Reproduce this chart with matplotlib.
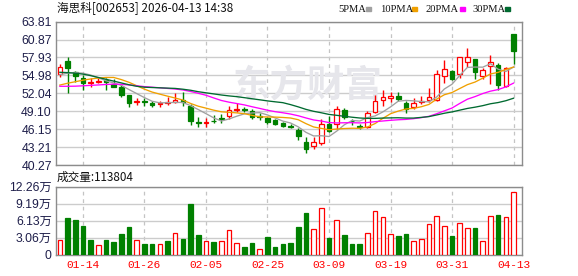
import matplotlib
matplotlib.use("Agg")
import matplotlib.pyplot as plt

dates = ["01-09", "01-12", "01-13", "01-14", "01-15", "01-16", "01-19", "01-20", "01-21", "01-22",
         "01-23", "01-26", "01-27", "01-28", "01-29", "01-30", "02-02", "02-03", "02-04", "02-05",
         "02-06", "02-09", "02-10", "02-11", "02-12", "02-13", "02-24", "02-25", "02-26", "02-27",
         "03-02", "03-03", "03-04", "03-05", "03-06", "03-09", "03-10", "03-11", "03-12", "03-13",
         "03-16", "03-17", "03-18", "03-19", "03-20", "03-23", "03-24", "03-25", "03-26", "03-27",
         "03-30", "03-31", "04-01", "04-02", "04-03", "04-07", "04-08", "04-09", "04-10", "04-13"]

opens = [55.17, 57.40, 55.60, 54.61, 53.79, 53.86, 54.18, 53.53, 53.03, 51.77,
         50.57, 50.73, 50.41, 50.34, 50.46, 50.57, 50.87, 50.00, 47.33, 47.22,
         47.58, 47.99, 48.37, 49.35, 49.47, 49.19, 48.27, 47.91, 47.66, 47.22,
         46.68, 46.02, 44.10, 43.44, 43.93, 47.00, 46.97, 49.31, 47.58, 46.63,
         46.56, 48.93, 50.90, 51.23, 51.61, 50.50, 49.75, 50.62, 50.95, 50.95,
         54.84, 55.68, 55.17, 57.24, 57.63, 54.97, 56.48, 56.70, 53.30, 61.78]
highs = [56.86, 58.06, 55.79, 55.05, 54.51, 54.51, 54.61, 54.35, 53.58, 51.85,
         51.28, 51.28, 50.78, 50.78, 51.49, 52.15, 52.31, 50.21, 48.11, 47.94,
         48.48, 48.61, 49.96, 50.41, 49.75, 49.42, 48.76, 48.11, 47.83, 47.38,
         46.97, 46.43, 44.92, 44.82, 47.78, 48.32, 49.96, 49.58, 47.78, 47.00,
         49.19, 51.77, 52.59, 52.26, 52.34, 50.73, 51.23, 51.61, 52.87, 55.88,
         57.52, 55.83, 57.96, 59.44, 57.63, 56.16, 58.34, 57.07, 56.39, 61.78]
lows = [54.67, 52.15, 53.95, 52.59, 53.13, 53.69, 52.59, 53.03, 51.39, 49.75,
        50.13, 49.96, 49.85, 49.75, 50.13, 50.41, 49.96, 46.76, 46.46, 46.46,
        47.12, 47.22, 47.78, 48.98, 49.03, 47.78, 47.66, 47.05, 46.76, 46.51,
        46.27, 44.38, 42.29, 42.93, 43.56, 45.74, 46.18, 47.78, 46.92, 46.14,
        46.30, 48.76, 50.00, 50.67, 50.78, 48.76, 49.42, 50.21, 50.67, 50.83,
        53.69, 54.23, 54.64, 56.32, 54.40, 54.43, 53.63, 52.59, 53.13, 56.81]
closes = [56.32, 56.25, 54.94, 53.79, 53.95, 54.02, 53.86, 53.13, 51.77, 50.50,
          50.73, 50.57, 50.13, 50.46, 50.67, 50.90, 50.54, 47.55, 47.22, 47.33,
          47.45, 47.88, 49.27, 49.47, 49.35, 48.11, 48.16, 47.38, 47.00, 46.73,
          46.56, 45.03, 42.87, 44.00, 46.96, 45.89, 49.42, 48.11, 47.50, 46.51,
          48.76, 50.78, 51.39, 51.61, 51.19, 49.44, 50.41, 50.78, 51.36, 55.19,
          55.99, 54.40, 57.96, 57.96, 55.50, 55.88, 57.24, 53.41, 56.16, 59.05]

# volume in lots
volumes = [26400, 66100, 62500, 51700, 26400, 16800, 26400, 22800, 37300, 49900,
           25800, 19200, 19200, 18600, 24600, 38500, 28200, 91400, 35500, 24000,
           22800, 24000, 43900, 20400, 13800, 21000, 9600, 31900, 13800, 19200,
           21000, 49900, 75100, 45700, 83500, 30100, 62500, 35500, 19200, 19200,
           38500, 78100, 67300, 36700, 33700, 37300, 24000, 27600, 54700, 69100,
           51100, 33700, 56500, 48100, 48100, 24000, 69100, 71500, 67300, 113804]
volume_up = [1, 0, 0, 0, 0, 1, 0, 0, 0, 0,
             1, 0, 0, 1, 0, 1, 0, 0, 0, 1,
             0, 1, 1, 1, 0, 0, 1, 0, 0, 0,
             0, 0, 0, 1, 1, 0, 1, 0, 0, 0,
             1, 1, 1, 1, 0, 0, 1, 1, 1, 1,
             1, 0, 1, 1, 0, 1, 1, 0, 1, 1]

ma5 = [55.10, 55.35, 55.45, 55.35, 55.05, 54.59, 54.11, 53.75, 53.35, 52.66,
       52.00, 51.34, 50.74, 50.48, 50.51, 50.55, 50.54, 50.02, 49.38, 48.71,
       48.02, 47.49, 47.83, 48.28, 48.68, 48.82, 48.87, 48.49, 48.00, 47.48,
       47.17, 46.54, 45.64, 45.04, 45.08, 44.95, 45.83, 46.88, 47.58, 47.49,
       48.06, 48.33, 48.99, 49.81, 50.75, 50.88, 50.81, 50.69, 50.64, 51.44,
       52.75, 53.54, 54.98, 56.30, 56.36, 56.34, 56.91, 56.00, 55.64, 56.35]
ma10 = [53.40, 53.70, 53.95, 54.20, 54.40, 54.55, 54.65, 54.65, 54.30, 53.85,
        53.29, 52.73, 52.25, 51.91, 51.58, 51.27, 50.94, 50.38, 49.93, 49.61,
        49.28, 49.01, 48.93, 48.83, 48.70, 48.42, 48.18, 48.16, 48.14, 48.08,
        47.99, 47.71, 47.07, 46.52, 46.28, 46.06, 46.18, 46.26, 46.31, 46.29,
        46.51, 47.08, 47.93, 48.69, 49.12, 49.47, 49.57, 49.84, 50.22, 51.09,
        51.81, 52.18, 52.83, 53.47, 53.90, 54.54, 55.23, 55.49, 55.97, 56.36]
ma20 = [53.20, 53.20, 53.22, 53.28, 53.35, 53.42, 53.50, 53.55, 53.52, 53.42,
        53.28, 53.15, 53.05, 52.95, 52.85, 52.75, 52.60, 52.35, 52.05, 51.73,
        51.29, 50.87, 50.59, 50.37, 50.14, 49.84, 49.56, 49.27, 49.03, 48.85,
        48.64, 48.36, 48.00, 47.67, 47.49, 47.24, 47.18, 47.21, 47.22, 47.18,
        47.25, 47.39, 47.50, 47.61, 47.70, 47.76, 47.88, 48.05, 48.27, 48.69,
        49.16, 49.63, 50.38, 51.08, 51.51, 52.01, 52.40, 52.66, 53.10, 53.72]
ma30 = [55.50, 55.45, 55.35, 55.20, 54.95, 54.65, 54.35, 54.05, 53.75, 53.45,
        53.20, 53.05, 53.00, 52.95, 52.90, 52.85, 52.72, 52.55, 52.31, 52.13,
        51.95, 51.77, 51.62, 51.50, 51.33, 51.15, 50.98, 50.80, 50.65, 50.51,
        50.19, 49.82, 49.41, 49.09, 48.85, 48.58, 48.43, 48.27, 48.12, 47.99,
        47.93, 47.93, 47.98, 48.01, 48.03, 47.98, 47.98, 48.09, 48.22, 48.49,
        48.77, 48.99, 49.28, 49.56, 49.77, 50.02, 50.33, 50.53, 50.83, 51.24]

price_ticks = [40.27, 43.21, 46.15, 49.10, 52.04, 54.98, 57.93, 60.87, 63.81]
volume_ticks = [0, 30650, 61300, 91950, 122600]
volume_tick_labels = ["0", "3.06万", "6.13万", "9.19万", "12.26万"]
tick_every = 8
first_tick = 3

title = "海思科[002653] 2026-04-13 14:38"
ma_names = ["5PMA", "10PMA", "20PMA", "30PMA"]
ma_colors = ["#a0a0a0", "#f0a000", "#ff00ff", "#006a30"]

RED = "#ff0000"
GREEN = "#008000"
GRID = "#cccccc"
FRAME = "#8c8c8c"
LABEL = "#1e1e4a"
CJK = ["Noto Sans CJK SC", "DejaVu Sans"]
NUM = ["Liberation Sans", "Noto Sans CJK SC"]

W, H = 578, 276
fig = plt.figure(figsize=(W / 100, H / 100), dpi=100)
fig.patch.set_facecolor("white")

left, right = 56, 522
ax = fig.add_axes([left / W, 1 - 165 / H, (right - left) / W, (165 - 21.7) / H])
axv = fig.add_axes([left / W, 1 - 254.7 / H, (right - left) / W, 68 / H])

n = len(closes)
xs = list(range(n))
tick_idx = xs[first_tick::tick_every]

for a in (ax, axv):
    a.set_xlim(-0.5, n + 0.1)
    for s in a.spines.values():
        s.set_color(FRAME)
        s.set_linewidth(1.0)
    a.tick_params(length=0, pad=3)
    a.grid(axis="y", color=GRID, linewidth=1.0, zorder=0)
    a.set_axisbelow(True)
    for t in tick_idx:
        a.axvline(t, color="#c4c4c4", linewidth=0.9, linestyle=(0, (3, 3)), zorder=0.5)

# watermark
ax.text(0.54, 0.55, "东方财富", transform=ax.transAxes, ha="center", va="center",
        fontsize=27, fontweight="bold", color="#e6e6eb", family=CJK, zorder=0.8)

# candles
body_w = 0.6
for i in xs:
    o, h, l, c = opens[i], highs[i], lows[i], closes[i]
    up = c >= o
    col = RED if up else GREEN
    lo_b, hi_b = min(o, c), max(o, c)
    ax.vlines(i, l, lo_b, color=col, linewidth=1.0, zorder=2)
    ax.vlines(i, hi_b, h, color=col, linewidth=1.0, zorder=2)
    height = max(hi_b - lo_b, 0.02)
    ax.bar(i, height, bottom=lo_b, width=body_w, facecolor="white" if up else GREEN,
           edgecolor=col, linewidth=0.9, zorder=3)

for vals, col in zip([ma5, ma10, ma20, ma30], ma_colors):
    ax.plot(xs, vals, color=col, linewidth=0.95, zorder=4)

ax.set_ylim(price_ticks[0], price_ticks[-1])
ax.set_yticks(price_ticks)
ax.set_yticklabels([f"{p:.2f}" for p in price_ticks], family=NUM, fontsize=8.8, color=LABEL)
ax.set_xticks(tick_idx)
ax.set_xticklabels([])

# volume
for i in xs:
    up = volume_up[i]
    col = RED if up else GREEN
    axv.bar(i, volumes[i], width=body_w, facecolor="white" if up else GREEN,
            edgecolor=col, linewidth=0.9, zorder=3)

axv.set_ylim(volume_ticks[0], volume_ticks[-1])
axv.set_yticks(volume_ticks)
axv.set_yticklabels(volume_tick_labels, family=NUM, fontsize=8.8, color=LABEL)
axv.set_xticks(tick_idx)
axv.set_xticklabels([dates[i] for i in tick_idx], family="Liberation Mono",
                    fontsize=8, color=RED)
axv.tick_params(axis="x", pad=4)

# texts
fig.text(57 / W, 1 - 9 / H, title, family=CJK, fontsize=8.4, color="#111111",
         ha="left", va="center")
fig.text(57 / W, 1 - 177 / H, f"成交量:{volumes[-1]}", family=CJK, fontsize=8.4,
         color="#111111", ha="left", va="center")

legend_text_x = [338, 380, 426, 472]
legend_box_x = [366, 412, 460, 505]
for name, col, tx, bx in zip(ma_names, ma_colors, legend_text_x, legend_box_x):
    fig.text(tx / W, 1 - 9 / H, name, family="Liberation Serif", fontsize=7.6,
             color="#111111", ha="left", va="center")
    fig.patches.append(plt.Rectangle((bx / W, 1 - 10.5 / H), 5 / W, 3.5 / H,
                                     transform=fig.transFigure, color=col))

fig.savefig("out.png", dpi=100)
